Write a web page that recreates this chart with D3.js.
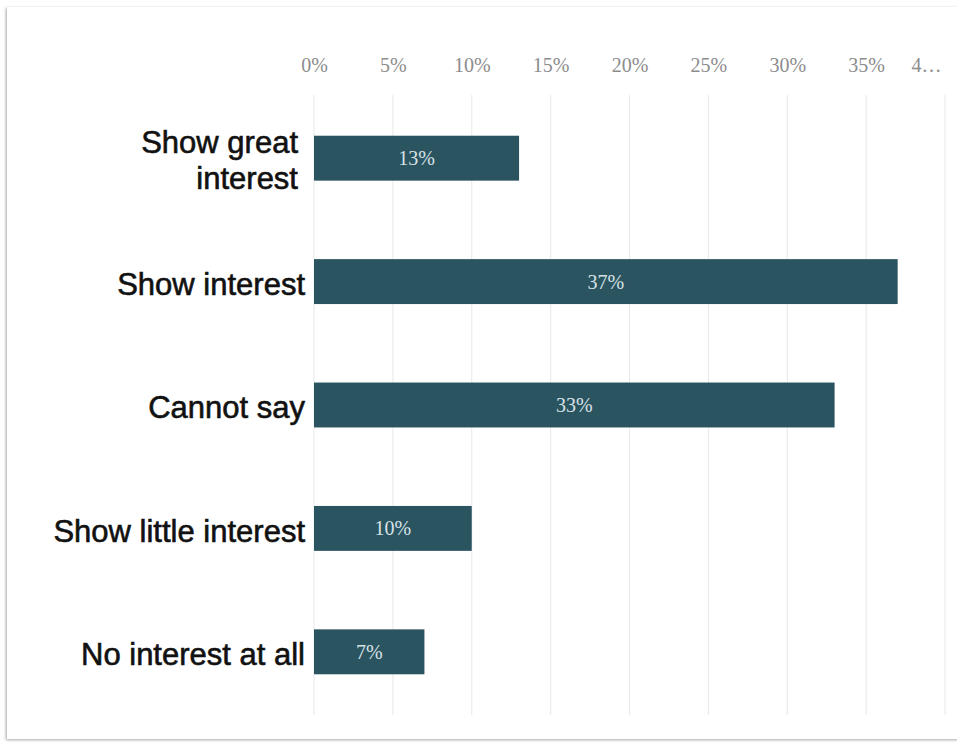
<!DOCTYPE html>
<html>
<head>
<meta charset="utf-8">
<script src="https://cdn.jsdelivr.net/npm/d3@7"></script>
<style>
  html, body { margin: 0; padding: 0; background: #ffffff; }
  svg { display: block; }
</style>
</head>
<body>
<svg id="chart" width="957" height="743"></svg>
<script>
// Survey answers and their shares (percent)
const categories = [
  ["Show great", "interest"],
  ["Show interest"],
  ["Cannot say"],
  ["Show little interest"],
  ["No interest at all"]
];
const values = [13, 37, 33, 10, 7];
const tickValues = [0, 5, 10, 15, 20, 25, 30, 35, 40];
const tickLabels = ["0%", "5%", "10%", "15%", "20%", "25%", "30%", "35%", "4\u2026"];

const svg = d3.select("#chart");
const W = 957, H = 743;

// card with a soft shadow on its left, top and bottom edges
const defs = svg.append("defs");
const f = defs.append("filter").attr("id", "shadow")
  .attr("x", "-5%").attr("y", "-5%").attr("width", "110%").attr("height", "110%");
f.append("feDropShadow").attr("dx", -1).attr("dy", 1).attr("stdDeviation", 1.6)
  .attr("flood-color", "#000").attr("flood-opacity", 0.35);

svg.append("rect")
  .attr("x", 7).attr("y", 7).attr("width", W + 20).attr("height", 732)
  .attr("fill", "#ffffff")
  .attr("filter", "url(#shadow)");

const keys = categories.map((c, i) => "c" + i);
const x = d3.scaleLinear().domain([0, 40]).range([314, 945]);
const y = d3.scaleBand().domain(keys).range([95, 715]).paddingInner(0.636).paddingOuter(0.33);

// vertical gridlines
svg.append("g").selectAll("line")
  .data(tickValues)
  .join("line")
  .attr("x1", d => x(d)).attr("x2", d => x(d))
  .attr("y1", 95).attr("y2", 715)
  .attr("stroke", "#e8e8e8").attr("stroke-width", 1);

// top axis labels; the last, truncated one sits inside the card edge
const axis = d3.axisTop(x).tickValues(tickValues)
  .tickFormat((d, i) => tickLabels[i]).tickSize(0).tickPadding(0);
const ax = svg.append("g").attr("transform", "translate(0,72)").call(axis);
ax.select(".domain").remove();
ax.selectAll("text")
  .attr("fill", "#8c8c8c")
  .attr("font-family", "'Liberation Serif', 'Times New Roman', serif")
  .attr("font-size", 20)
  .attr("dy", 0);
ax.selectAll(".tick").filter((d, i, n) => i === n.length - 1).select("text")
  .attr("text-anchor", "end")
  .attr("dx", -4);

// bars
svg.append("g").selectAll("rect")
  .data(values)
  .join("rect")
  .attr("x", x(0))
  .attr("y", (d, i) => y(keys[i]))
  .attr("width", d => x(d) - x(0))
  .attr("height", y.bandwidth())
  .attr("fill", "#2b5461");

// value labels inside bars
svg.append("g").selectAll("text")
  .data(values)
  .join("text")
  .attr("x", d => (x(0) + x(d)) / 2)
  .attr("y", (d, i) => y(keys[i]) + y.bandwidth() / 2)
  .attr("dy", "0.35em")
  .attr("text-anchor", "middle")
  .attr("fill", "#d8e2e6")
  .attr("font-family", "'Liberation Serif', 'Times New Roman', serif")
  .attr("font-size", 20)
  .text(d => d + "%");

// category labels
const lineH = 36;
const lab = svg.append("g").selectAll("text")
  .data(categories)
  .join("text")
  .attr("text-anchor", "end")
  .attr("fill", "#111")
  .attr("stroke", "#111").attr("stroke-width", 0.6)
  .attr("font-family", "'Liberation Sans', Arial, sans-serif")
  .attr("font-size", 31)
  .attr("y", (d, i) => y(keys[i]) + y.bandwidth() / 2 + 2);
lab.each(function (lines) {
  const t = d3.select(this);
  const cy = +t.attr("y");
  const off = lines.length > 1 ? 7 : 0;
  lines.forEach((ln, j) => {
    t.append("tspan")
      .attr("x", 305 - off)
      .attr("y", cy + (j - (lines.length - 1) / 2) * lineH)
      .attr("dy", "0.36em")
      .text(ln);
  });
});
</script>
</body>
</html>
